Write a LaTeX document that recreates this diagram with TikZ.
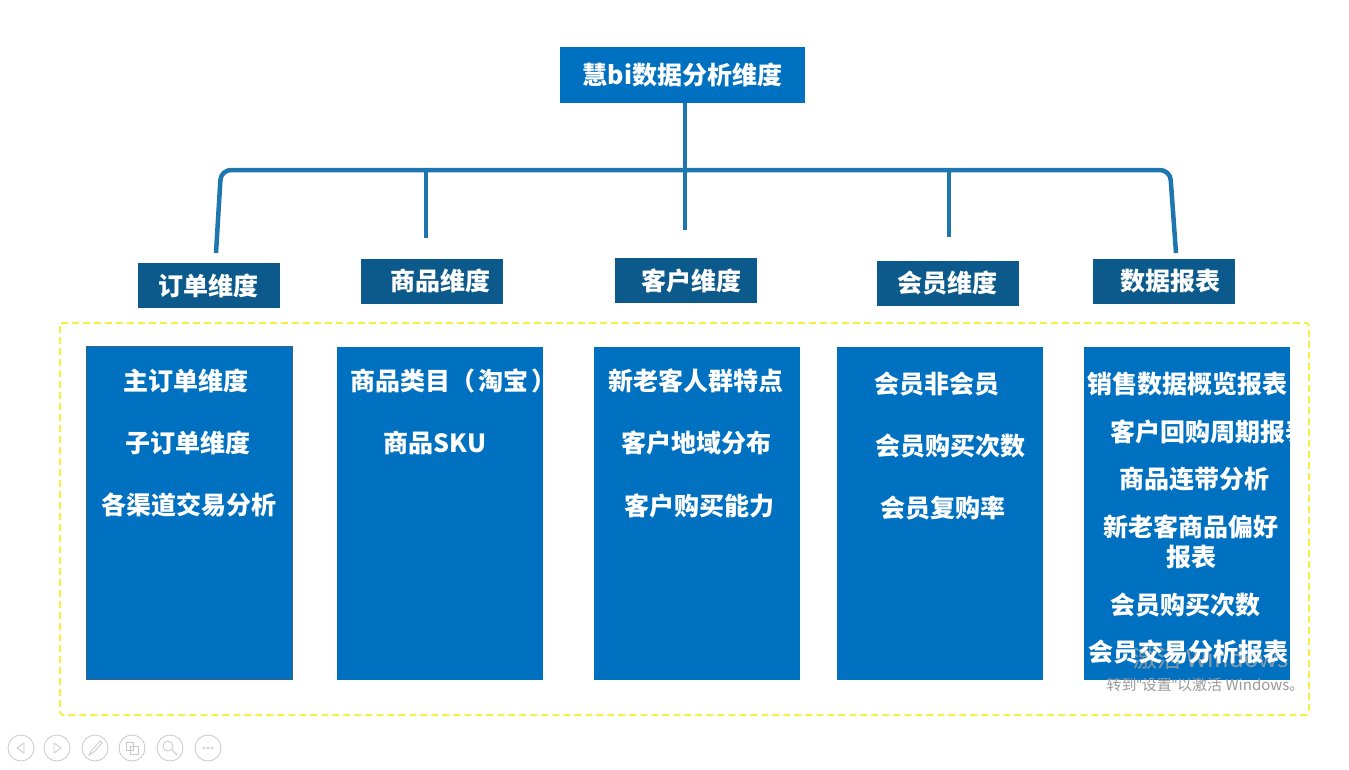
\documentclass[tikz,border=0pt]{standalone}
\usepackage{fontspec}
\setmainfont{Noto Sans CJK SC}
\newfontfamily\latinfont{Liberation Sans}
\usetikzlibrary{positioning}
\definecolor{titleblue}{RGB}{0,112,192}
\definecolor{catblue}{RGB}{12,90,140}
\definecolor{barblue}{RGB}{30,118,175}
\definecolor{boxedge}{RGB}{60,95,130}
\definecolor{dashyellow}{RGB}{245,240,70}
\definecolor{navgray}{RGB}{200,200,200}
\tikzset{
  bigtxt/.style={text=white, font=\bfseries\fontsize{25}{30}\selectfont},
  titlebox/.style={fill=titleblue, bigtxt, minimum width=245, minimum height=56, inner sep=0},
  catbox/.style={fill=catblue, bigtxt, minimum width=142, minimum height=45, inner sep=0},
  contentbox/.style={fill=titleblue, minimum width=206, minimum height=333, inner sep=0},
  item/.style={bigtxt, inner sep=0, align=center},
  bar/.style={draw=barblue, line width=4.5pt},
  navbtn/.style={draw=navgray, line width=0.8pt},
}
\begin{document}
\begin{tikzpicture}[x=1pt,y=-1pt]
\useasboundingbox (0,0) rectangle (1349,769);

% title and branch line
\node[titlebox] (title) at (682.5,75) {慧bi数据分析维度};
\coordinate (dropL) at (216,253);
\coordinate (dropR) at (1176,253);
\coordinate (j2) at (426,170);
\coordinate (j4) at (949,170);
\coordinate (stub2) at (426,238);
\coordinate (stub3) at (685,230);
\coordinate (stub4) at (949,237);
\draw[bar, rounded corners=10] (dropL) -- (221,170) -- (1170,170) -- (dropR);
\draw[bar] (title.south -| stub3) -- (stub3);
\draw[bar] (j2) -- (stub2);
\draw[bar] (j4) -- (stub4);

% categories
\node[catbox] (cat1) at (208.5,285.5) {订单维度};
\node[catbox] (cat2) at (431.5,281) {\hspace{18pt}商品维度};
\node[catbox] (cat3) at (685.5,280.5) {\hspace{12pt}客户维度};
\node[catbox] (cat4) at (947.5,283.5) {会员维度};
\node[catbox] (cat5) at (1164,281.5) {\hspace{12pt}数据报表};

% dashed frame
\draw[dashyellow, line width=2pt, dash pattern=on 7pt off 4pt, rounded corners=3]
  (60,323) rectangle (1309,715);

% content boxes
\node[contentbox, draw=boxedge, line width=1pt] (box1) at (189,513) {};
\node[contentbox] (box2) at (440,513.5) {};
\node[contentbox] (box3) at (697,513.5) {};
\node[contentbox] (box4) at (940,513.5) {};
\node[contentbox] (box5) at (1187,513) {};

\node[item] (o1) at (186,381) {主订单维度};
\node[item] (o2) at (188,443) {子订单维度};
\node[item] (o3) at (189,505) {各渠道交易分析};

\begin{scope}
\clip (box2.north west) rectangle (box2.south east);
\node[item, anchor=west] (g1) at (350,381) {商品类目（\hspace{3pt}淘宝\hspace{3pt}）};
\end{scope}
\node[item] (g2) at (435,443) {商品SKU};

\node[item] (k1) at (696,381) {新老客人群特点};
\node[item] (k2) at (696,443) {客户地域分布};
\node[item] (k3) at (699,506) {客户购买能力};

\node[item] (m1) at (937,384) {会员非会员};
\node[item] (m2) at (950,446) {会员购买次数};
\node[item] (m3) at (943,508) {会员复购率};

% watermark
\node[text=gray!70, font=\fontsize{24}{26}\selectfont, anchor=west, opacity=0.8] (wm1) at (1130,658) {激活 Windows};
\node[text=gray!80, font=\fontsize{15}{17}\selectfont, anchor=west] (wm2) at (1103,685) {转到{\latinfont\symbol{34}}设置{\latinfont\symbol{34}}以激活 Windows。};

\node[item] (r1) at (1187,384) {销售数据概览报表};
\begin{scope}
\clip (box5.north west) rectangle ([xshift=3pt]box5.south east);
\node[item, anchor=west] (r2) at (1110,432) {客户回购周期报表};
\end{scope}
\node[item] (r3) at (1194,479) {商品连带分析};
\node[item] (r4) at (1191,542) {新老客商品偏好\\报表};
\node[item] (r5) at (1185,605) {会员购买次数};
\node[item] (r6) at (1188,652) {会员交易分析报表};

% slideshow buttons
\foreach \x/\n in {21/b1, 57/b2, 95/b3, 132/b4, 170/b5, 208/b6}
  \node[navbtn, circle, minimum size=26, inner sep=0] (nav\n) at (\x,748) {};
\draw[navgray, line width=0.8pt] (24,743) -- (17,748) -- (24,753) -- cycle;
\draw[navgray, line width=0.8pt] (54,743) -- (61,748) -- (54,753) -- cycle;
\draw[navgray, line width=0.8pt] (89,755) -- (92,750) -- (100,741) -- (102,743) -- (94,752) -- cycle;
\draw[navgray, line width=0.8pt] (126,742) rectangle (133,750) (130,746) rectangle (138,754);
\draw[navgray, line width=0.8pt] (168,746) circle (5) (172,750) -- (177,755);
\foreach \d in {-4,0,4}
  \draw[navgray, line width=0.6pt] (208+\d,748) circle (1.3);
\end{tikzpicture}
\end{document}
